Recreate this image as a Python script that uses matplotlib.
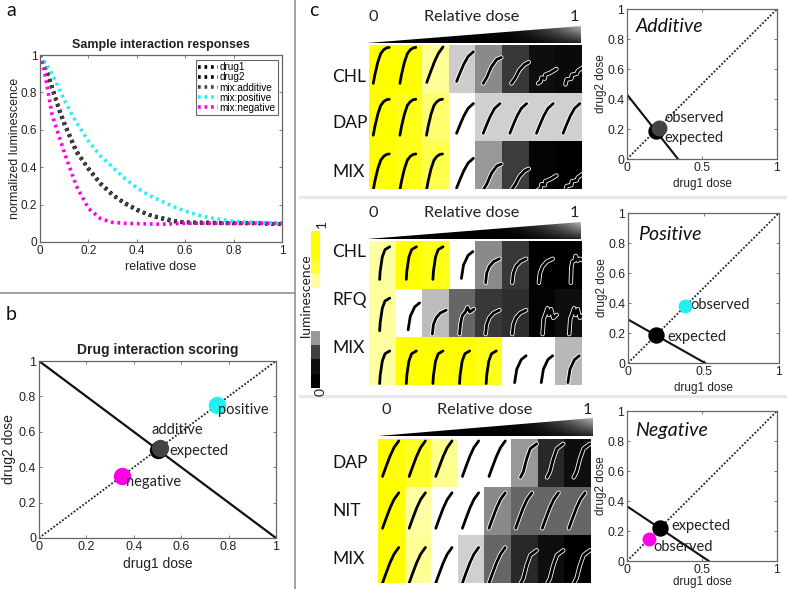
import numpy as np
import matplotlib
matplotlib.use("Agg")
import matplotlib.pyplot as plt
import matplotlib.patheffects as pe
from matplotlib.colors import LinearSegmentedColormap
from matplotlib.patches import Polygon

W, H = 787, 589
plt.rcParams['font.family'] = ['Liberation Sans', 'DejaVu Sans']
SANS = 'Lato'
CYAN, MAGENTA, DARK = '#22f0f0', '#ff00e6', '#444444'
EDGE = '#666666'
TXT = '#222222'

# ---------- data ----------
dose_drug = [0, .02, .05, .08, .1, .15, .2, .25, .3, .35, .4, .45, .5, .55, .6, .7, .8, .9, 1]
resp_drug1 = [1, .95, .83, .71, .64, .49, .39, .31, .25, .21, .175, .145, .13, .115, .105, .10, .10, .10, .095]
resp_drug2 = [1, .94, .82, .70, .63, .48, .395, .315, .255, .205, .17, .145, .125, .11, .105, .105, .10, .10, .095]
resp_add = [1, .95, .825, .71, .635, .485, .39, .31, .25, .205, .175, .145, .13, .115, .105, .10, .10, .10, .095]
dose_pos = [0, .05, .1, .15, .2, .25, .3, .35, .4, .45, .5, .55, .6, .65, .7, .75, .8, .9, 1]
resp_pos = [1, .90, .76, .64, .54, .46, .40, .34, .29, .25, .22, .19, .165, .145, .13, .12, .11, .105, .10]
dose_neg = [0, .02, .05, .08, .1, .15, .2, .25, .3, .35, .5, .6, 1]
resp_neg = [1, .90, .68, .56, .48, .30, .18, .125, .105, .10, .095, .10, .10]

score_line_x = [0, 1]
score_line_y = [1, 0]
score_pts = {'expected': (.5, .5), 'additive': (.51, .51), 'positive': (.75, .75), 'negative': (.35, .35)}

add_line_x, add_line_y = [0, .34], [.43, 0]
add_exp, add_obs = (.19, .19), (.21, .21)
pos_line_x, pos_line_y = [0, .51], [.29, 0]
pos_exp, pos_obs = (.185, .185), (.38, .38)
neg_line_x, neg_line_y = [0, .545], [.365, 0]
neg_exp, neg_obs = (.22, .22), (.145, .145)

heat_add = [[1, 1, .7, .4, .27, .11, .03, .02],
            [1, .95, .78, .5, .41, .41, .41, .41],
            [1, .95, .85, .5, .3, .12, .01, 0]]
heat_pos = [[.68, 1, .95, .5, .27, .11, 0, 0],
            [.68, .5, .37, .2, .11, .09, .01, .03],
            [.68, 1, 1, 1, .95, .5, .5, .36]]
heat_neg = [[1, .92, .72, .5, .5, .3, .08, .03],
            [1, .68, .5, .5, .27, .2, .2, .2],
            [1, .7, .5, .41, .2, .08, .03, 0]]
labels_add = ['CHL', 'DAP', 'MIX']
labels_pos = ['CHL', 'RFQ', 'MIX']
labels_neg = ['DAP', 'NIT', 'MIX']

# well growth traces: cell fractions (x, y from cell top)
traces = {
    'S': [(.16, .80), (.22, .62), (.33, .36), (.44, .18), (.55, .10), (.66, .06), (.76, .05)],
    'T': [(.17, .78), (.30, .58), (.45, .36), (.60, .18), (.78, .04)],
    'D': [(.29, .76), (.42, .58), (.56, .40), (.72, .24), (.92, .14)],
    'L': [(.29, .80), (.42, .68), (.60, .45), (.80, .30), (.97, .26)],
    'B': [(.35, .80), (.46, .68), (.58, .42), (.72, .20), (.96, .10)],
    'W': [(.35, .80), (.45, .72), (.50, .68), (.65, .52), (.85, .40), (1.0, .36)],
    'A': [(.35, .80), (.45, .76), (.48, .68), (.60, .70), (.62, .62), (.80, .58), (1.04, .50)],
    'Z': [(.38, .82), (.42, .72), (.60, .70), (.62, .62), (.80, .60), (.84, .54), (1.05, .46)],
    'U': [(.40, .75), (.42, .58), (.50, .28), (.60, .13), (.78, .07)],
    'V': [(.47, .73), (.55, .45), (.72, .25), (.90, .17)],
    'H': [(.38, .82), (.42, .62), (.52, .48), (.68, .38), (.90, .32)],
    'J': [(.40, .82), (.44, .60), (.50, .44), (.62, .36), (.70, .26), (.78, .36), (.94, .30)],
    'Q': [(.58, .82), (.60, .50), (.64, .38), (.72, .36), (.76, .26), (.84, .36), (.92, .32), (1.05, .36)],
    'R': [(.52, .82), (.56, .50), (.62, .42), (.70, .28), (.76, .42), (.84, .30), (.92, .48), (1.05, .42)],
}
shapes_add = ['SSTDLWAZ', 'SSSDDDDD', 'SSSDLWAZ']
shapes_pos = ['UUUVHHHQ', 'UVHJHHRR', 'UUUUUVVV']
shapes_neg = ['TTTTTBBB', 'TTTTTTTT', 'TTTTTBBB']
row_shift_add = [0, .08, .22]
row_shift_pos = [.05, .12, .22]
row_shift_neg = [0, .08, .22]

cbar_levels = [0, .03, .13, .3, .5, .5, .5, .68, .9, 1, 1]

# ---------- helpers ----------
fig = plt.figure(figsize=(W / 100, H / 100), dpi=100)


def ax_px(l, t, r, b, **kw):
    return fig.add_axes([l / W, 1 - b / H, (r - l) / W, (b - t) / H], **kw)


def style(ax, xticks, yticks, ts=8.8):
    ax.set_xlim(0, 1)
    ax.set_ylim(0, 1)
    ax.set_xticks(xticks)
    ax.set_yticks(yticks)
    fmt = lambda v: f'{v:g}'
    ax.set_xticklabels([fmt(v) for v in xticks])
    ax.set_yticklabels([fmt(v) for v in yticks])
    ax.tick_params(direction='in', length=2, width=.6, labelsize=ts, pad=2,
                   top=True, right=True, color=EDGE, labelcolor=TXT)
    for s in ax.spines.values():
        s.set_color(EDGE)
        s.set_linewidth(.9)


def diag(ax):
    ax.plot([0, 1], [0, 1], color='#222222', lw=1.3, ls=(0, (1, 1)))


cmap = LinearSegmentedColormap.from_list('lum', [(0, '#000000'), (.5, '#ffffff'),
                                                 (.75, '#ffff80'), (1, '#ffff00')])

# ---------- panel a ----------
axa = ax_px(40, 55, 282, 242)
style(axa, [0, .2, .4, .6, .8, 1], [0, .2, .4, .6, .8, 1], ts=8.5)
dot = dict(lw=2.6, ls=(0, (.75, 1.05)))
axa.plot(dose_drug, resp_drug1, color='black', label='drug1', **dot)
axa.plot(dose_drug, resp_drug2, color='black', label='drug2', **dot)
axa.plot(dose_drug, resp_add, color=DARK, label='mix:additive', **dot)
axa.plot(dose_pos, resp_pos, color=CYAN, label='mix:positive', **dot)
axa.plot(dose_neg, resp_neg, color=MAGENTA, label='mix:negative', **dot)
axa.set_title('Sample interaction responses', fontsize=9, fontweight='bold', pad=5, color=TXT)
axa.set_xlabel('relative dose', fontsize=9, labelpad=3, color=TXT)
axa.set_ylabel('normalized luminescence', fontsize=9, labelpad=0, color=TXT)
leg = axa.legend(loc='upper right', bbox_to_anchor=(.985, .975), borderaxespad=0, fontsize=7.2,
                 fancybox=False, framealpha=1, edgecolor=EDGE, handlelength=2.0, handletextpad=.15,
                 labelspacing=.02, borderpad=.25)
leg.get_frame().set_linewidth(.8)

# ---------- panel b ----------
axb = ax_px(39, 361, 276, 538)
style(axb, [0, .2, .4, .6, .8, 1], [0, .2, .4, .6, .8, 1], ts=9)
diag(axb)
axb.plot(score_line_x, score_line_y, color='#111111', lw=1.6)
ms = 11.5
axb.plot(*score_pts['expected'], 'o', color='black', ms=ms, zorder=4)
axb.plot(*score_pts['additive'], 'o', color=DARK, ms=ms, zorder=5)
axb.plot(*score_pts['positive'], 'o', color=CYAN, ms=ms, zorder=5)
axb.plot(*score_pts['negative'], 'o', color=MAGENTA, ms=ms, zorder=5)
axb.set_title('Drug interaction scoring', fontsize=10, fontweight='bold', pad=5, color=TXT)
axb.set_xlabel('drug1 dose', fontsize=10, labelpad=3, color=TXT)
axb.set_ylabel('drug2 dose', fontsize=10, labelpad=2, color=TXT)


# ---------- panel c heatmaps ----------
def heat(l, t, r, b, values, shapes, shift):
    ax = ax_px(l, t, r, b)
    ax.imshow(values, cmap=cmap, vmin=0, vmax=1, aspect='auto', extent=(0, 8, 3, 0),
              interpolation='nearest')
    for i, row in enumerate(shapes):
        for j, code in enumerate(row):
            pts = np.array(traces[code])
            dark = values[i][j] < .45
            effects = [pe.Stroke(linewidth=3.2, foreground='white'), pe.Normal()] if dark else None
            ax.plot(j + pts[:, 0], i + pts[:, 1] + shift[i], color='black', lw=2.0,
                    solid_capstyle='round', path_effects=effects)
    ax.set_xlim(0, 8)
    ax.set_ylim(3, 0)
    ax.axis('off')


def wedge(l, t, r, b):
    ax = ax_px(l, t, r, b)
    xx, yy = np.meshgrid(np.linspace(0, 1, 200), np.linspace(0, 1, 40))
    shade = np.clip((xx - .55) / .45, 0, 1) ** 2 * (.15 + .55 * (1 - yy))
    im = ax.imshow(shade, cmap='gray', vmin=0, vmax=1, aspect='auto', extent=(0, 1, 1, 0))
    poly = Polygon([(0, 1), (1, 0), (1, 1)], closed=True, transform=ax.transData, fc='none', ec='none')
    ax.add_patch(poly)
    im.set_clip_path(poly)
    ax.set_xlim(0, 1)
    ax.set_ylim(1, 0)
    ax.axis('off')


heat(369, 45, 582, 189, heat_add, shapes_add, row_shift_add)
heat(369, 241, 582, 385, heat_pos, shapes_pos, row_shift_pos)
heat(378, 439, 591, 583, heat_neg, shapes_neg, row_shift_neg)
wedge(367, 26, 581, 43)
wedge(367, 222, 581, 239)
wedge(378, 418, 593, 436)

# colour key
axk = ax_px(311, 231, 320, 388)
axk.imshow(np.array(cbar_levels)[::-1, None], cmap=cmap, vmin=0, vmax=1, aspect='auto',
           interpolation='nearest')
axk.axis('off')


# ---------- panel c scoring plots ----------
def score(l, t, r, b, lx, ly, exp, obs, col, name, name_xy, obs_xy, exp_xy, xpad=3):
    ax = ax_px(l, t, r, b)
    style(ax, [0, .5, 1], [0, .2, .4, .6, .8, 1], ts=8.8)
    diag(ax)
    ax.plot(lx, ly, color='#111111', lw=1.5)
    ax.plot(*exp, 'o', color='black', ms=10.8, zorder=4)
    ax.plot(*obs, 'o', color=col, ms=9 if col != DARK else 10.5, zorder=5)
    ax.set_xlabel('drug1 dose', fontsize=8.5, labelpad=xpad, color=TXT)
    ax.set_ylabel('drug2 dose', fontsize=8.5, labelpad=0, color=TXT)
    ax.text(*name_xy, name, fontsize=14, style='italic', family=SANS, color='#111111', va='center')
    ax.text(*obs_xy, 'observed', fontsize=10.5, family=SANS, color=TXT, va='center')
    ax.text(*exp_xy, 'expected', fontsize=10.5, family=SANS, color=TXT, va='center', zorder=6)


score(627, 9, 777, 159, add_line_x, add_line_y, add_exp, add_obs, DARK, 'Additive', (.06, .88), (.25, .27), (.25, .14))
score(628, 213, 779, 363, pos_line_x, pos_line_y, pos_exp, pos_obs, CYAN, 'Positive', (.066, .86), (.41, .387), (.26, .173))
score(627, 411, 777, 561, neg_line_x, neg_line_y, neg_exp, neg_obs, MAGENTA, 'Negative', (.053, .867), (.173, .093), (.293, .233), xpad=0.5)

# ---------- overlay text and rules ----------
ov = fig.add_axes([0, 0, 1, 1], zorder=10)
ov.set_xlim(0, W)
ov.set_ylim(H, 0)
ov.axis('off')
ov.patch.set_alpha(0)
ov.plot([295, 295], [0, H], color='#888888', lw=1.1)
ov.plot([0, 295], [293, 293], color='#888888', lw=1.1)
ov.plot([300, W], [196.5, 196.5], color='#e8e8e8', lw=2.4)
ov.plot([300, W], [396, 396], color='#e8e8e8', lw=2.4)

panel = dict(fontsize=14, family=SANS, color='#111111', va='center', ha='left')
ov.text(6, 10, 'a', **panel)
ov.text(6, 315, 'b', **panel)
ov.text(309, 10, 'c', **panel)

hd = dict(fontsize=11.7, family=SANS, color=TXT, va='center', ha='center')
for y, x0, xm, x1 in [(17, 373, 472, 574), (213, 373, 472, 574), (410, 386, 485, 587)]:
    ov.text(x0, y, '0', **hd)
    ov.text(xm, y, 'Relative dose', **hd)
    ov.text(x1, y, '1', **hd)

rl = dict(fontsize=12.5, family=SANS, color='#111111', va='center', ha='left')
for names, ys in [(labels_add, (77, 123, 172)), (labels_pos, (252, 300, 348)), (labels_neg, (463, 511, 559))]:
    for n, y in zip(names, ys):
        ov.text(332, y, n, **rl)

ck = dict(fontsize=10, family=SANS, color=TXT, va='center', ha='center', rotation=90)
ov.text(306, 296, 'luminescence', **ck)
ov.text(322, 224, '1', **ck)
ov.text(321, 392, '0', **ck)

# ---------- panel b annotations ----------
an = dict(fontsize=10.5, family=SANS, color=TXT, va='center', ha='left')
ov.text(152, 430, 'additive', **an)
ov.text(169, 451, 'expected', **an)
ov.text(126, 482, 'negative', **an)
ov.text(218, 410, 'positive', **an)

fig.savefig('out.png', dpi=100)
